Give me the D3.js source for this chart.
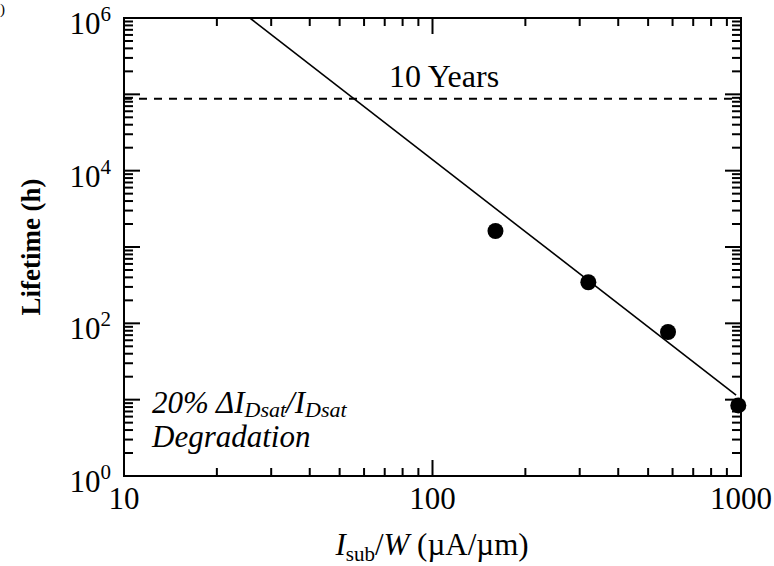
<!DOCTYPE html>
<html>
<head>
<meta charset="utf-8">
<script src="https://cdn.jsdelivr.net/npm/d3@7"></script>
<style>
  body { margin: 0; background: #fff; }
  text { font-family: "Liberation Serif", "Times New Roman", serif; fill: #000; }
</style>
</head>
<body>
<div id="chart"></div>
<script>
// measured points
const isubW = [160, 320, 580, 980];
const lifetime = [1620, 345, 77, 8.4];
// fitted line end points
const fitX = [25.6, 964];
const fitY = [1e6, 11.5];
const tenYears = 87600;
const xMajor = [10, 100, 1000];
const yMajorExp = [0, 2, 4, 6];

const width = 774, height = 566;
const plot = { left: 124, right: 741, top: 18, bottom: 476 };

const x = d3.scaleLog().domain([10, 1000]).range([plot.left, plot.right]);
const y = d3.scaleLog().domain([1, 1e6]).range([plot.bottom, plot.top]);

const svg = d3.select("#chart").append("svg").attr("width", width).attr("height", height);

// minor + major tick values
const xTicks = [];
[10, 100].forEach(d => { for (let k = 1; k < 10; k++) xTicks.push(d * k); });
xTicks.push(1000);
const yTicks = [];
for (let e = 0; e < 6; e++) { for (let k = 1; k < 10; k++) yTicks.push(k * Math.pow(10, e)); }
yTicks.push(1e6);
const isMajor = v => Math.abs(Math.log10(v) - Math.round(Math.log10(v))) < 1e-9;

const tickG = svg.append("g").attr("stroke", "#000").attr("stroke-width", 2);

tickG.selectAll(".xb").data(xTicks).enter().append("line")
  .attr("x1", d => x(d)).attr("x2", d => x(d))
  .attr("y1", plot.bottom).attr("y2", d => plot.bottom - (isMajor(d) ? 16 : 8));
tickG.selectAll(".xt").data(xTicks).enter().append("line")
  .attr("x1", d => x(d)).attr("x2", d => x(d))
  .attr("y1", plot.top).attr("y2", d => plot.top + (isMajor(d) ? 16 : 8));
tickG.selectAll(".yl").data(yTicks).enter().append("line")
  .attr("y1", d => y(d)).attr("y2", d => y(d))
  .attr("x1", plot.left).attr("x2", d => plot.left + (isMajor(d) ? 16 : 9));
tickG.selectAll(".yr").data(yTicks).enter().append("line")
  .attr("y1", d => y(d)).attr("y2", d => y(d))
  .attr("x1", plot.right).attr("x2", d => plot.right - (isMajor(d) ? 16 : 9));

// frame
svg.append("rect")
  .attr("x", plot.left).attr("y", plot.top)
  .attr("width", plot.right - plot.left).attr("height", plot.bottom - plot.top)
  .attr("fill", "none").attr("stroke", "#000").attr("stroke-width", 2);

// x tick labels
svg.selectAll(".xlab").data(xMajor).enter().append("text")
  .attr("x", d => x(d)).attr("y", 509)
  .attr("text-anchor", "middle").attr("font-size", 31)
  .text(d => d);

// y tick labels 10^n
const yLab = svg.selectAll(".ylab").data(yMajorExp).enter().append("text")
  .attr("x", 111).attr("y", d => y(Math.pow(10, d)) + 16)
  .attr("text-anchor", "end").attr("font-size", 31);
yLab.append("tspan").text("10");
yLab.append("tspan").attr("font-size", 21).attr("dy", -13).text(d => d);

// axis titles
const xt = svg.append("text").attr("x", 432).attr("y", 555)
  .attr("text-anchor", "middle").attr("font-size", 31);
xt.append("tspan").attr("font-style", "italic").text("I");
xt.append("tspan").attr("font-size", 21).attr("dy", 6).text("sub");
xt.append("tspan").attr("dy", -6).text("/");
xt.append("tspan").attr("font-style", "italic").text("W");
xt.append("tspan").text(" (\u00b5A/\u00b5m)");

svg.append("text")
  .attr("transform", "translate(40,247) rotate(-90)")
  .attr("text-anchor", "middle").attr("font-size", 27).attr("font-weight", "bold")
  .text("Lifetime (h)");

// 10 years line
svg.append("line")
  .attr("x1", plot.left).attr("x2", plot.right)
  .attr("y1", y(tenYears)).attr("y2", y(tenYears))
  .attr("stroke", "#000").attr("stroke-width", 2).attr("stroke-dasharray", "8,7");
svg.append("text").attr("x", 444).attr("y", 87)
  .attr("text-anchor", "middle").attr("font-size", 32)
  .text("10 Years");

// fit line
svg.append("line")
  .attr("x1", x(fitX[0])).attr("y1", y(fitY[0]))
  .attr("x2", x(fitX[1])).attr("y2", y(fitY[1]))
  .attr("stroke", "#000").attr("stroke-width", 1.6);

// data points
svg.selectAll(".pt").data(isubW).enter().append("circle")
  .attr("cx", d => x(d)).attr("cy", (d, i) => y(lifetime[i]))
  .attr("r", 8).attr("fill", "#000");

// annotation
const ann = svg.append("text").attr("x", 152).attr("y", 413)
  .attr("font-size", 31).attr("font-style", "italic");
ann.append("tspan").text("20% \u0394I");
ann.append("tspan").attr("font-size", 22).attr("dy", 4).text("Dsat");
ann.append("tspan").attr("dy", -4).text("/I");
ann.append("tspan").attr("font-size", 22).attr("dy", 4).text("Dsat");
svg.append("text").attr("x", 152).attr("y", 447)
  .attr("font-size", 31).attr("font-style", "italic")
  .text("Degradation");

// cropped panel label fragment
svg.append("text").attr("x", 0).attr("y", 14).attr("font-size", 15).text(")");
</script>
</body>
</html>
